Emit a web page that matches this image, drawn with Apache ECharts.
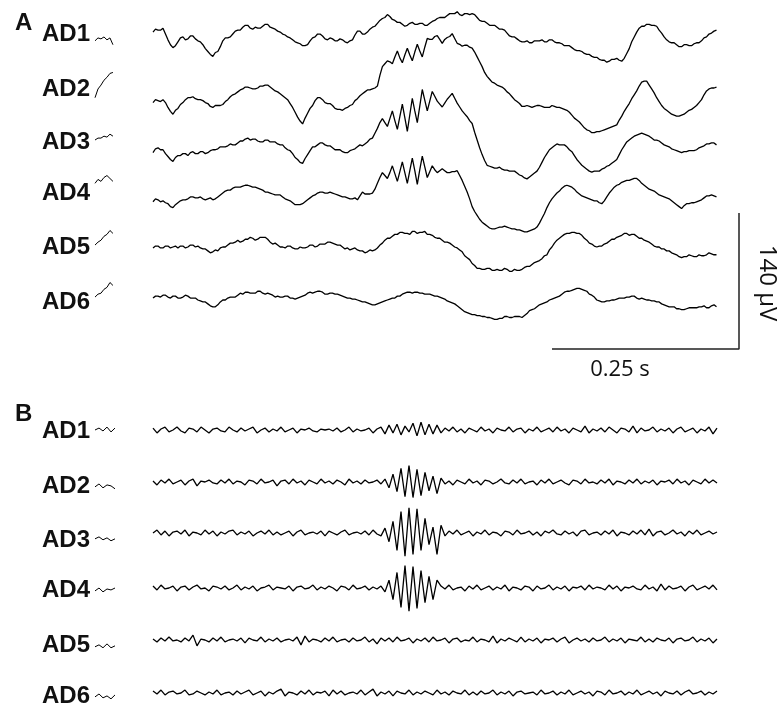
<!DOCTYPE html>
<html>
<head>
<meta charset="utf-8">
<script src="https://cdn.jsdelivr.net/npm/echarts@6/dist/echarts.min.js"></script>
<style>
html, body { margin: 0; padding: 0; background: #fff; }
#main { width: 780px; height: 706px; }
</style>
</head>
<body>
<div id="main"></div>
<script>
var channels = ['AD1', 'AD2', 'AD3', 'AD4', 'AD5', 'AD6'];

// A: raw traces, uV, 300 Hz
var rawAD1 = [3,6,5,5,7,1,-5,-10,-13,-11,-7,-3,-2,-5,-4,-1,-1,-4,-6,-7,-10,-14,-17,-20,-22,-18,-17,-12,-6,-3,-3,-2,1,4,5,5,8,10,10,7,6,8,7,7,9,11,11,8,7,6,4,3,1,0,-2,-3,-5,-7,-8,-9,-11,-11,-10,-6,-3,-2,1,1,-1,-4,-5,-3,-4,-6,-6,-4,-5,-7,-8,-6,-5,0,4,4,1,1,3,6,8,9,12,15,17,18,21,19,16,15,13,13,11,9,10,12,13,11,11,12,12,10,10,12,14,15,17,18,18,18,20,22,22,22,24,21,20,22,22,21,22,21,18,15,14,14,12,10,10,10,8,6,6,5,2,-1,-2,-2,-4,-6,-7,-7,-6,-8,-8,-6,-6,-6,-5,-7,-7,-5,-5,-7,-8,-8,-9,-11,-11,-11,-13,-15,-16,-16,-17,-19,-20,-20,-22,-23,-23,-25,-26,-26,-28,-27,-25,-25,-24,-26,-27,-24,-19,-14,-7,-2,3,7,9,9,11,11,10,10,9,5,2,-2,-5,-7,-8,-8,-10,-12,-12,-10,-10,-11,-11,-9,-8,-8,-6,-3,-2,1,2,4,5];
var rawAD2 = [-15,-12,-13,-14,-12,-15,-20,-24,-27,-23,-21,-17,-15,-12,-10,-10,-9,-11,-12,-12,-13,-15,-16,-19,-20,-18,-18,-18,-17,-14,-12,-9,-7,-6,-4,-2,-1,1,1,0,-1,-1,0,2,2,3,3,1,-1,-3,-4,-6,-8,-10,-12,-16,-20,-25,-30,-34,-37,-31,-26,-21,-18,-13,-10,-10,-12,-15,-16,-16,-18,-21,-22,-22,-23,-21,-20,-18,-17,-13,-11,-8,-6,-4,-2,-2,-1,0,2,13,22,25,28,27,25,32,38,31,26,34,41,34,28,37,45,38,32,42,51,50,50,53,54,50,46,50,52,53,56,51,46,45,43,44,44,42,41,37,32,27,22,16,12,9,6,5,3,2,1,-1,-4,-6,-9,-12,-14,-16,-19,-19,-18,-19,-20,-19,-18,-18,-19,-20,-20,-20,-18,-19,-20,-20,-21,-22,-23,-25,-28,-31,-33,-35,-38,-41,-43,-44,-46,-46,-45,-45,-44,-43,-42,-41,-40,-39,-38,-33,-29,-24,-20,-16,-11,-7,-3,2,6,7,7,3,-1,-5,-10,-14,-18,-21,-23,-25,-27,-28,-29,-29,-28,-27,-25,-23,-22,-20,-18,-15,-12,-7,-3,-1,0,0,1];
var rawAD3 = [-12,-8,-7,-9,-9,-13,-16,-19,-21,-17,-15,-15,-13,-13,-15,-12,-11,-13,-13,-11,-11,-13,-12,-10,-9,-9,-8,-6,-6,-6,-5,-3,-4,-4,-2,0,0,2,3,1,2,2,0,-1,-1,1,1,-1,-1,-1,-3,-4,-4,-7,-9,-10,-13,-17,-19,-22,-23,-18,-14,-10,-6,-6,-4,-2,-2,-4,-5,-5,-7,-9,-9,-9,-11,-12,-12,-10,-9,-8,-6,-4,-5,-3,-1,2,3,8,13,19,23,19,15,23,31,21,12,25,38,24,10,27,44,31,19,36,53,42,31,41,51,46,41,38,35,39,43,46,49,44,39,35,31,28,25,21,18,9,1,-7,-14,-20,-25,-26,-27,-28,-28,-27,-29,-30,-30,-31,-31,-31,-33,-35,-36,-38,-39,-37,-35,-33,-31,-27,-22,-17,-13,-9,-7,-5,-3,-4,-4,-4,-6,-9,-11,-15,-19,-22,-25,-27,-29,-31,-32,-31,-31,-31,-29,-28,-26,-25,-23,-21,-19,-14,-9,-5,-1,1,3,5,6,7,8,7,6,5,3,1,1,0,-2,-4,-5,-6,-8,-9,-10,-11,-12,-11,-11,-10,-10,-10,-9,-7,-6,-5,-3,-3,-2,-2,-4];
var rawAD4 = [-8,-5,-6,-8,-7,-9,-10,-13,-14,-11,-9,-7,-6,-6,-5,-3,-3,-4,-4,-3,-5,-6,-5,-4,-6,-5,-3,-1,1,3,4,4,6,7,7,7,8,9,9,8,7,7,6,5,4,2,2,1,0,-1,-1,-1,-3,-5,-6,-7,-9,-11,-11,-11,-10,-8,-6,-4,-2,-1,1,2,2,1,1,2,1,0,-1,-2,-3,-3,-4,-5,-5,-4,-6,-2,2,0,0,0,1,5,11,17,22,19,16,22,29,21,13,23,33,22,11,24,37,24,10,25,39,28,17,23,29,25,22,24,26,24,22,22,23,23,24,19,14,8,2,-5,-13,-18,-22,-26,-29,-31,-33,-35,-36,-36,-35,-34,-34,-33,-34,-35,-36,-36,-37,-37,-38,-39,-39,-38,-37,-36,-34,-30,-25,-20,-14,-9,-5,-2,1,3,6,8,9,8,7,5,2,0,-2,-3,-4,-5,-6,-7,-7,-9,-10,-7,-3,1,4,7,9,10,12,13,14,14,15,16,16,14,11,9,7,5,4,3,1,-1,-2,-3,-4,-5,-7,-9,-11,-13,-15,-12,-10,-10,-9,-9,-8,-7,-6,-4,-2,-2,-1,-2,-3];
var rawAD5 = [-1,1,1,-1,-1,1,1,-1,0,1,-1,1,1,-1,0,2,2,0,1,-1,-2,-2,-4,-6,-5,-3,-4,-1,0,0,2,4,4,5,7,5,6,8,8,10,9,7,8,10,10,10,8,5,3,4,2,0,0,-1,1,1,-1,-2,-2,0,-1,-1,0,2,2,0,1,3,3,3,5,5,4,3,2,2,0,-2,-1,-3,-2,-1,-3,-4,-4,-6,-5,-3,-4,-3,-1,2,4,7,9,9,11,13,13,15,15,14,14,13,16,16,14,15,15,16,13,13,12,10,9,9,7,5,5,4,2,0,-1,-3,-5,-9,-11,-13,-17,-19,-22,-22,-23,-23,-22,-22,-24,-24,-23,-24,-24,-22,-23,-25,-25,-23,-24,-24,-23,-21,-20,-20,-18,-16,-15,-14,-12,-9,-8,-3,0,4,7,9,11,13,14,14,15,15,14,14,12,9,7,4,3,1,0,1,1,3,4,6,8,8,10,11,12,14,14,12,13,13,11,9,9,7,6,5,3,1,0,0,-2,-2,-4,-4,-6,-7,-8,-10,-11,-10,-10,-8,-9,-10,-10,-8,-9,-9,-8,-6,-7,-8,-8];
var rawAD6 = [2,4,4,3,5,5,3,2,4,4,2,2,3,5,4,2,2,2,0,-1,-2,-2,-4,-6,-7,-7,-5,-2,0,0,2,3,3,3,5,7,6,8,8,7,7,7,9,9,7,6,7,6,5,3,4,3,3,4,4,2,2,1,2,3,4,5,7,8,7,8,9,9,8,6,6,7,7,6,6,5,4,3,2,2,1,1,0,-1,-2,-2,-3,-4,-5,-5,-4,-3,-2,-1,0,1,2,2,4,4,6,7,8,8,7,8,8,7,7,6,6,6,5,4,4,3,2,1,-1,-2,-3,-4,-6,-8,-10,-12,-13,-14,-15,-15,-16,-16,-17,-17,-18,-18,-19,-20,-20,-19,-19,-17,-17,-18,-18,-17,-17,-17,-18,-16,-14,-11,-10,-9,-7,-5,-4,-3,-2,0,1,2,3,4,6,8,9,9,10,11,12,12,11,10,9,6,5,3,0,-1,-2,-2,-1,-1,0,0,1,2,2,2,3,3,4,4,2,1,2,1,0,0,-1,-1,-2,-2,-4,-5,-6,-7,-7,-7,-9,-9,-10,-10,-9,-8,-8,-8,-8,-7,-7,-6,-8,-8,-6,-5,-7];

// B: filtered traces, uV, 187 Hz
var filtAD1 = [2,-3,1,3,-2,0,3,-1,-3,2,1,-2,3,0,-3,1,2,-1,-2,3,0,-2,2,-1,1,3,-3,0,2,-2,1,-1,3,-2,0,2,-3,1,0,2,-1,-2,1,0,1,-1,2,-2,0,3,-2,1,-1,0,2,-3,1,3,-4,5,-3,6,-5,4,-2,7,-6,8,-5,6,-4,5,-3,2,-1,3,-2,1,-3,2,0,-2,3,-1,1,-3,2,0,-1,3,-2,1,2,-3,1,-1,3,-2,0,2,-2,3,-1,1,-3,2,0,-2,4,-3,1,-1,2,-2,3,0,-3,2,1,-2,4,-3,2,-1,0,3,-2,1,-1,2,-3,1,3,-2,0,2,-3,1,-1,3,-4,2];
var filtAD2 = [1,-3,2,-1,3,-2,0,2,-3,1,3,-4,1,0,2,-1,-2,2,-1,3,-2,1,0,-3,2,1,-2,3,-1,0,2,-4,1,2,-2,3,-1,1,-3,2,0,-2,3,-1,1,-2,2,0,-3,3,-1,1,-2,2,-1,0,2,-2,3,-6,8,-10,14,-15,17,-16,13,-14,10,-9,6,-12,4,-2,1,-3,2,0,-2,3,-1,1,-3,2,1,-2,0,3,-1,-2,2,-1,3,-2,0,1,-3,2,-1,3,-2,0,2,-1,-3,2,1,-2,3,-1,0,-2,2,-1,3,-3,1,0,-2,2,-1,3,-2,1,-1,2,-3,1,0,2,-2,3,-1,1,-3,2,0,-2,3,-1,2,-1];
var filtAD3 = [0,3,-2,2,-3,1,2,-1,3,-3,1,0,-2,3,-1,2,-3,1,-1,2,3,-2,1,-1,2,-3,0,2,-1,3,-2,1,-2,0,2,-3,1,3,-2,0,1,-1,2,-3,2,0,-2,1,3,-2,0,1,-1,2,-2,3,-1,-3,5,-9,12,-18,22,-24,26,-22,25,-18,15,-12,6,-22,8,-3,2,-1,3,-2,0,2,-3,1,-1,3,-2,1,0,-3,2,1,-2,3,-1,0,2,-2,1,-3,2,0,3,-1,-2,2,-1,1,-3,2,3,-2,0,1,-2,2,-1,3,-3,1,0,-2,2,-1,3,-2,4,-3,1,2,-2,0,3,-1,1,-3,2,-1,3,-2,0,2,-1,1];
var filtAD4 = [2,-2,3,-1,0,2,-3,1,2,-2,1,3,-1,0,-3,2,1,-1,2,-2,0,3,-2,1,-1,2,-3,0,1,3,-2,1,0,-1,2,-3,1,2,-1,0,3,-2,1,-1,2,0,-3,2,1,-2,3,-1,0,2,-2,1,-1,2,-4,8,-12,16,-20,23,-24,22,-21,18,-15,12,-12,8,2,-1,3,-2,0,1,-3,2,-1,3,-2,0,2,-2,1,-1,3,-3,1,0,-2,2,1,-3,2,-1,0,3,-2,1,-1,2,-3,1,0,2,-2,3,-1,1,0,-2,3,-1,2,-3,1,0,2,-1,-2,3,-1,1,-3,4,-2,2,-1,0,2,-3,1,3,-2,0,2,-1,3,-2];
var filtAD5 = [1,-2,2,-1,3,-1,0,-2,2,-1,5,-6,1,0,-2,2,-1,3,-2,0,1,-1,2,-3,2,0,-1,3,-2,1,-1,2,-2,0,1,-1,3,-5,4,-2,1,0,-2,2,-1,3,-2,0,1,-2,2,-1,0,3,-2,1,-4,2,-1,2,-2,3,-1,0,2,-3,1,-1,2,-2,3,-1,0,2,-3,1,2,-2,0,-1,3,-2,1,0,-2,4,-3,1,-1,2,0,-2,3,-2,1,-1,2,-3,1,0,2,-2,1,3,-3,0,2,-1,1,-2,2,-1,0,3,-2,1,-1,2,-3,1,0,-1,3,-2,1,-2,2,0,-1,2,-3,1,2,-1,0,3,-2,1,-1,2,-3,1];
var filtAD6 = [2,-1,3,-2,1,2,-1,0,3,-2,-1,2,0,-2,1,-1,3,-2,0,1,-2,2,-1,1,3,-2,0,2,-3,1,-1,2,4,-3,1,0,-2,2,-1,3,-2,1,0,2,-3,3,-1,2,-2,0,1,-1,3,-2,1,4,-3,1,-1,2,-3,2,0,-1,3,-2,1,-1,2,0,-2,3,-1,1,-2,2,0,-1,3,-2,1,-2,2,-1,0,3,-2,1,-1,2,-3,1,2,-1,0,1,-2,3,-1,0,2,-2,1,-1,3,-2,0,2,-1,1,-3,2,1,-2,3,-1,0,2,-2,1,-1,3,-2,0,2,-1,1,-3,2,0,-1,2,-2,1,3,-1,0,2,-2,1,-1,2];

// short snippets printed after each channel name
var rawTag = [
    [-6,-3,-4,-2,-5,-3,-10],
    [-10,-1,3,8,11,15,16],
    [1,3,3,5,4,7,5],
    [11,15,13,17,19,16,13],
    [2,5,7,11,13,17,14],
    [3,6,7,11,13,18,15]
];
var filtTag = [
    [0,2,-1,3,-2,2],
    [-5,-2,-6,-3,-4,-7],
    [-6,-4,-7,-5,-8,-6],
    [-3,0,-4,-1,-2,0],
    [-7,-5,-8,-4,-8,-6],
    [-4,-1,-5,-3,-6,-2]
];

var rawTraces = [rawAD1, rawAD2, rawAD3, rawAD4, rawAD5, rawAD6];
var filtTraces = [filtAD1, filtAD2, filtAD3, filtAD4, filtAD5, filtAD6];

// layout (pixels) -- the scale bars give 0.25 s = 187 px, 140 uV = 136 px
var PX_PER_S = 748;
var PX_PER_UV = 136 / 140;
var T0_PX = 153;
var rowA = [35, 88, 141, 194, 247, 300];
var rowB = [430, 482, 533, 588, 640, 693];
var labelA = [34.5, 89, 142.5, 193, 247.5, 302.5];
var labelB = [431.5, 486.5, 540, 590, 645, 696.5];

function toPoints(values, t0, dt, rowPx) {
    var base = -rowPx / PX_PER_UV;
    return values.map(function (v, i) {
        return [t0 + i * dt, base + v];
    });
}

function trace(data, width) {
    return {
        type: 'line',
        data: data,
        showSymbol: false,
        silent: true,
        animation: false,
        lineStyle: { color: '#000', width: width || 1.3 }
    };
}

var series = [];
for (var k = 0; k < 6; k++) {
    series.push(trace(toPoints(rawTraces[k], 0, 1 / 300, rowA[k])));
    series.push(trace(toPoints(filtTraces[k], 0, 1 / 187, rowB[k])));
    series.push(trace(toPoints(rawTag[k], -58 / PX_PER_S, 0.004, rowA[k]), 1));
    series.push(trace(toPoints(filtTag[k], -58 / PX_PER_S, 0.00535, rowB[k]), 1));
}

// scale bars
var barT = (739 - T0_PX) / PX_PER_S;
var barV = -349 / PX_PER_UV;
series.push({
    type: 'line',
    data: [[barT - 0.25, barV], [barT, barV], [barT, barV + 140]],
    showSymbol: false,
    silent: true,
    animation: false,
    lineStyle: { color: '#222', width: 1.5 }
});

var graphics = [];
function label(text, x, y, size) {
    graphics.push({
        type: 'text',
        x: x,
        y: y,
        style: {
            text: text,
            font: 'bold ' + size + 'px "Liberation Sans", Arial, sans-serif',
            fill: '#111',
            verticalAlign: 'middle'
        }
    });
}
label('A', 15, 23.5, 24);
label('B', 15, 414, 24);
for (var j = 0; j < 6; j++) {
    label(channels[j], 42, labelA[j], 24);
    label(channels[j], 42, labelB[j], 24);
}
graphics.push({
    type: 'text',
    x: 767,
    y: 283,
    rotation: -Math.PI / 2,
    style: {
        text: '140 µV',
        font: '24px "Open Sans", sans-serif',
        fill: '#111',
        align: 'center',
        verticalAlign: 'middle'
    }
});
graphics.push({
    type: 'text',
    x: 620,
    y: 370,
    style: {
        text: '0.25 s',
        font: '22px "Open Sans", sans-serif',
        fill: '#111',
        align: 'center',
        verticalAlign: 'middle'
    }
});

var myChart = echarts.init(document.getElementById('main'));
myChart.setOption({
    backgroundColor: '#fff',
    animation: false,
    grid: { left: 0, right: 0, top: 0, bottom: 0 },
    xAxis: {
        type: 'value',
        min: -T0_PX / PX_PER_S,
        max: (780 - T0_PX) / PX_PER_S,
        show: false
    },
    yAxis: {
        type: 'value',
        min: -706 / PX_PER_UV,
        max: 0,
        show: false
    },
    series: series,
    graphic: graphics
});
</script>
</body>
</html>
